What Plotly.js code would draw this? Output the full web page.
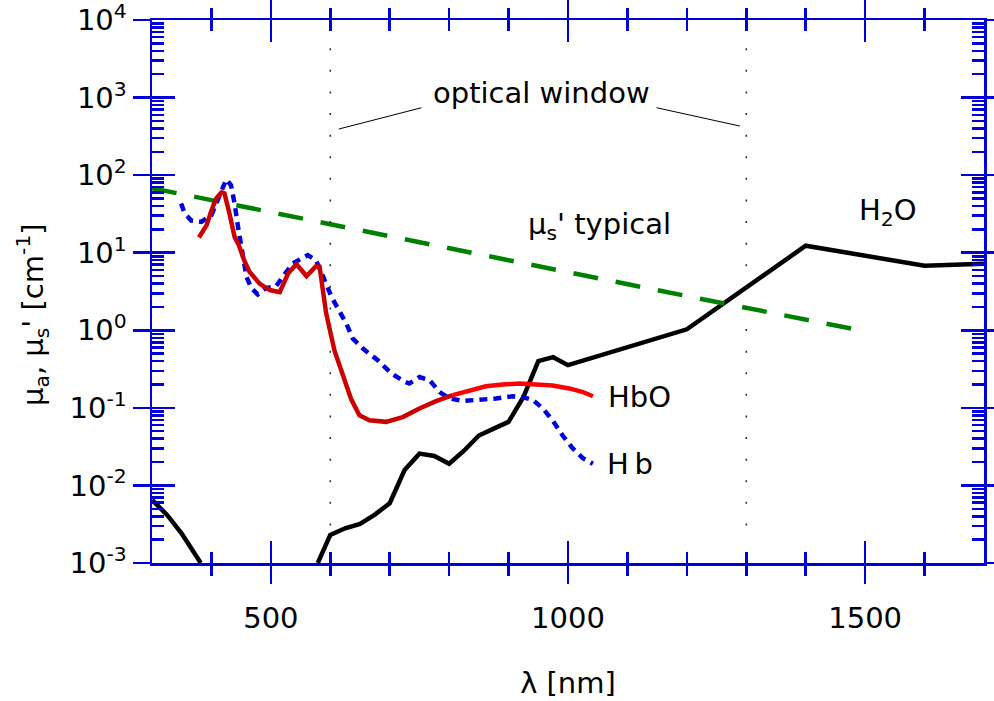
<!DOCTYPE html>
<html><head><meta charset="utf-8">
<script src="https://cdn.plot.ly/plotly-3.0.1.min.js"></script>
<style>html,body{margin:0;padding:0;background:#fff;} #chart{width:994px;height:701px;}</style>
</head><body><div id="chart"></div>
<script>
// ---- data ----
const hbWl  = [349,355,366,383,400,408,419,425,433,439,445,449,453,459,467,478,492,509,520,537,562,576,588,602,616,627,638,655,680,703,725,733,750,767,784,801,823,851,879,907,924,941,958,974,991,1008,1025,1042];
const hbMua = [43,32,26,25,30.5,43,74,88,74,43,21,13,8.0,4.9,3.5,2.9,3.5,3.7,4.9,7.3,9.3,8.0,4.9,2.7,1.73,1.22,0.78,0.58,0.41,0.277,0.217,0.206,0.25,0.227,0.16,0.132,0.123,0.126,0.132,0.141,0.138,0.126,0.098,0.069,0.044,0.030,0.0225,0.019];

const hboWl  = [379,392,400,408,417,422,431,439,446,455,464,481,498,515,529,543,560,576,582,593,607,621,635,649,666,694,722,750,778,806,834,862,890,918,946,974,1002,1025,1042];
const hboMua = [15.7,22.7,35,50,60,58,30.5,16,12.6,8.0,5.7,4.0,3.3,3.1,5.4,7.1,5.0,6.7,6.6,1.66,0.55,0.28,0.13,0.080,0.069,0.066,0.076,0.098,0.122,0.146,0.169,0.19,0.20,0.206,0.20,0.194,0.178,0.16,0.141];
const hboSplitWl = 806;

const h2oWl  = [300,325,350,375,382,null,579,600,625,650,675,700,725,750,775,800,825,850,875,900,925,950,975,1000,1200,1400,1600,1700];
const h2oMua = [0.0065,0.0042,0.0024,0.0012,0.001,null,0.001,0.0023,0.0028,0.0032,0.0042,0.0059,0.0158,0.0257,0.024,0.019,0.028,0.044,0.054,0.066,0.138,0.40,0.45,0.355,1.03,12.3,6.8,7.2];

const musWl  = [300,600,900,1200,1500];
const musVal = [68,23,8.0,2.76,0.97];

const windowNm = [600,1300];

const xTickVals = [500,1000,1500];
const xTickText = ['500','1000','1500'];
const xMinorVals = [400,600,700,800,900,1100,1200,1300,1400,1600];
const yExp = [-3,-2,-1,0,1,2,3,4];
const yTickVals = yExp.map(e => Math.pow(10,e));
const yTickText = yExp.map(e => '10<sup>' + e + '</sup>');
const yMinorVals = [];
for (let e = -3; e < 4; e++) for (let m = 2; m <= 9; m++) yMinorVals.push(m * Math.pow(10, e));

// ---- styling ----
const BLUE = '#0000dd';
const FONT = 'DejaVu Sans';
const FS = 29;
const TW = 2.5;
const LW = 4.5;

const splitIdx = hboWl.indexOf(hboSplitWl);

const traces = [
  {x: h2oWl, y: h2oMua, mode:'lines', line:{color:'#000', width:LW}, connectgaps:false, hoverinfo:'skip'},
  {x: musWl, y: musVal, mode:'lines', line:{color:'#008000', width:LW, dash:'25px,18px'}, hoverinfo:'skip'},
  {x: hbWl, y: hbMua, mode:'lines', line:{color:'#0000dd', width:LW, dash:'8px,6px'}, hoverinfo:'skip'},
  {x: hboWl.slice(0, splitIdx+1), y: hboMua.slice(0, splitIdx+1), mode:'lines', line:{color:'#cc0000', width:LW}, hoverinfo:'skip'},
  {x: hboWl.slice(splitIdx), y: hboMua.slice(splitIdx), mode:'lines', line:{color:'#ff0000', width:LW}, hoverinfo:'skip'},
  {x:[1000], y:[1], xaxis:'x2', yaxis:'y2', mode:'markers', marker:{opacity:0}, hoverinfo:'skip'}
];

const tickFont = {family: FONT, size: FS, color:'#000'};
const txtFont = {family: FONT, size: FS, color:'#000'};

const layout = {
  width: 994, height: 701,
  margin: {l:152, r:10, t:20, b:138},
  paper_bgcolor:'#fff', plot_bgcolor:'#fff',
  showlegend:false,
  font: txtFont,
  xaxis: {
    range:[300,1700], tickmode:'array', tickvals:xTickVals, ticktext:xTickText,
    ticks:'outside', ticklen:18, tickwidth:TW, tickcolor:BLUE,
    showline:true, linecolor:BLUE, linewidth:TW, mirror:'ticks',
    showgrid:false, zeroline:false, tickfont:tickFont, ticklabelstandoff:10,
    ticklabeloverflow:'allow',
    minor:{tickmode:'array', tickvals:xMinorVals, ticks:'outside', ticklen:10, tickwidth:TW, tickcolor:BLUE, showgrid:false},
    title:{text:'λ [nm]', font:txtFont, standoff:39}
  },
  xaxis2: {
    overlaying:'x', anchor:'y2', side:'bottom',
    range:[300,1700], tickmode:'array', tickvals:xTickVals,
    ticks:'inside', ticklen:22, tickwidth:TW, tickcolor:BLUE,
    showline:true, linecolor:BLUE, linewidth:TW, mirror:'ticks',
    showticklabels:false, showgrid:false, zeroline:false,
    minor:{tickmode:'array', tickvals:xMinorVals, ticks:'inside', ticklen:11, tickwidth:TW, tickcolor:BLUE, showgrid:false}
  },
  yaxis: {
    type:'log', range:[-3,4], tickmode:'array', tickvals:yTickVals, ticktext:yTickText,
    ticks:'outside', ticklen:17, tickwidth:TW, tickcolor:BLUE,
    showline:true, linecolor:BLUE, linewidth:TW, mirror:'ticks',
    showgrid:false, zeroline:false, tickfont:tickFont, ticklabelstandoff:0,
    ticklabeloverflow:'allow'
  },
  yaxis2: {
    type:'log', range:[-3,4], overlaying:'y', anchor:'x2', side:'left',
    tickmode:'array', tickvals:yTickVals,
    ticks:'inside', ticklen:23, tickwidth:TW, tickcolor:BLUE,
    showline:true, linecolor:BLUE, linewidth:TW, mirror:'ticks',
    showticklabels:false, showgrid:false, zeroline:false,
    minor:{tickmode:'array', tickvals:yMinorVals, ticks:'inside', ticklen:12, tickwidth:TW, tickcolor:BLUE, showgrid:false}
  },
  shapes: [
    ...windowNm.map(w => ({type:'line', xref:'x', yref:'paper', x0:w, x1:w, y0:0.948, y1:0.04,
      line:{color:'#333', width:1.6, dash:'2px,19.6px'}})),
    {type:'line', xref:'paper', yref:'paper', x0:0.2245, y0:0.7992, x1:0.3239, y1:0.8384, line:{color:'#000', width:1}},
    {type:'line', xref:'paper', yref:'paper', x0:0.6065, y0:0.8384, x1:0.7066, y1:0.8047, line:{color:'#000', width:1}}
  ],
  annotations: [
    {text:"μ<sub>a</sub>, μ<sub>s</sub>' [cm<sup>-1</sup>]", xref:'paper', yref:'paper', x:-0.1434, y:0.458, textangle:-90, xanchor:'center', yanchor:'middle', showarrow:false, font:txtFont},
    {text:'optical window', xref:'paper', yref:'paper', x:0.468, y:0.8655, xanchor:'center', yanchor:'middle', showarrow:false, font:txtFont},
    {text:"μ<sub>s</sub>' typical", xref:'paper', yref:'paper', x:0.450, y:0.620, xanchor:'left', yanchor:'middle', showarrow:false, font:txtFont},
    {text:'H<sub>2</sub>O', xref:'paper', yref:'paper', x:0.8477, y:0.646, xanchor:'left', yanchor:'middle', showarrow:false, font:txtFont},
    {text:'HbO', xref:'paper', yref:'paper', x:0.5455, y:0.3057, xanchor:'left', yanchor:'middle', showarrow:false, font:txtFont},
    {text:'H\u2009b', xref:'paper', yref:'paper', x:0.5443, y:0.1830, xanchor:'left', yanchor:'middle', showarrow:false, font:txtFont}
  ]
};

Plotly.newPlot('chart', traces, layout, {staticPlot:true, displayModeBar:false});
</script>
</body></html>
